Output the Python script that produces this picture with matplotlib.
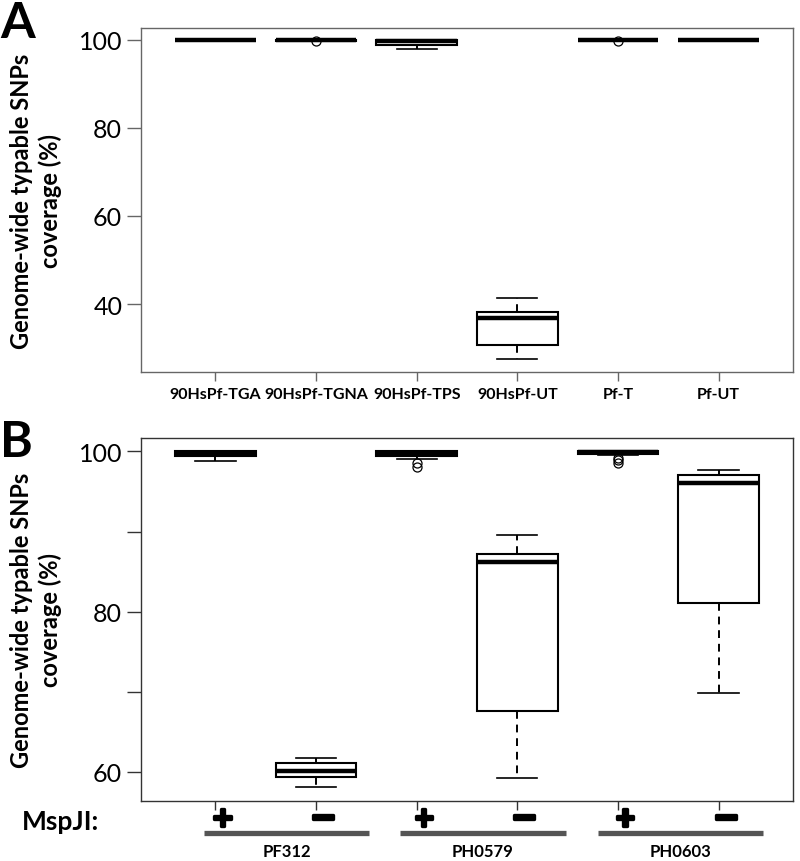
import matplotlib
matplotlib.use("Agg")
import matplotlib.pyplot as plt
import matplotlib.patheffects as pe

plt.rcParams['font.family'] = ['Lato', 'DejaVu Sans']

# panel A: coverage per sample group
a_labels = ['90HsPf-TGA', '90HsPf-TGNA', '90HsPf-TPS', '90HsPf-UT', 'Pf-T', 'Pf-UT']
a_whislo = [99.8, 99.75, 97.8, 27.5, 99.8, 99.8]
a_q1 = [99.85, 99.8, 98.9, 30.8, 99.85, 99.85]
a_med = [99.95, 99.9, 99.7, 36.8, 99.95, 99.95]
a_q3 = [100.0, 100.0, 100.0, 38.3, 100.0, 100.0]
a_whishi = [100.0, 100.0, 100.0, 41.5, 100.0, 100.0]
a_fliers = [[], [99.6], [], [], [99.6], []]

# panel B: with / without MspJI per strain
b_msp = ['+', '\u2212', '+', '\u2212', '+', '\u2212']
b_groups = ['PF312', 'PH0579', 'PH0603']
b_whislo = [98.8, 58.1, 99.0, 59.2, 99.6, 69.8]
b_q1 = [99.4, 59.4, 99.4, 67.6, 99.7, 81.1]
b_med = [99.8, 60.1, 99.8, 86.2, 99.9, 96.1]
b_q3 = [100.0, 61.1, 100.0, 87.2, 100.0, 97.1]
b_whishi = [100.0, 61.7, 100.0, 89.6, 100.0, 97.7]
b_fliers = [[], [], [98.6, 98.1], [], [99.2, 98.9, 98.6], []]


def make_stats(whislo, q1, med, q3, whishi, fliers):
    out = []
    for i in range(len(med)):
        out.append(dict(whislo=whislo[i], q1=q1[i], med=med[i], q3=q3[i],
                        whishi=whishi[i], fliers=fliers[i]))
    return out


box_style = dict(
    widths=0.8, patch_artist=True,
    boxprops=dict(facecolor='white', edgecolor='black', linewidth=1.5),
    medianprops=dict(color='black', linewidth=3.2, solid_capstyle='butt'),
    whiskerprops=dict(color='black', linewidth=1.4, linestyle=(0, (4, 3))),
    capprops=dict(color='black', linewidth=1.2),
    flierprops=dict(marker='o', markerfacecolor='none', markeredgecolor='black',
                    markersize=6.5, markeredgewidth=0.9),
)

fig = plt.figure(figsize=(8, 8.62), dpi=100)
ax1 = fig.add_axes([0.17625, 0.5673, 0.815, 0.3991])
ax2 = fig.add_axes([0.17625, 0.0700, 0.815, 0.4207])

pos = list(range(1, 7))
ax1.bxp(make_stats(a_whislo, a_q1, a_med, a_q3, a_whishi, a_fliers), positions=pos, **box_style)
ax2.bxp(make_stats(b_whislo, b_q1, b_med, b_q3, b_whishi, b_fliers), positions=pos, **box_style)

for ax, col in ((ax1, '#666666'), (ax2, '#333333')):
    ax.set_xlim(0.26, 6.74)
    for s in ax.spines.values():
        s.set_color(col)
        s.set_linewidth(1.0)
    ax.tick_params(axis='y', length=10, width=1, color=col, pad=3.5, labelsize=18)
    ax.tick_params(axis='x', length=6.5, width=1, color=col)

ax1.set_ylim(24.6, 102.66)
ax1.set_yticks([40, 60, 80, 100])
ax1.set_xticks(pos)
ax1.set_xticklabels(a_labels, fontsize=11.5, fontweight='bold')
ax1.tick_params(axis='x', pad=4)

ax2.set_ylim(56.41, 101.68)
ax2.set_yticks([60, 70, 80, 90, 100])
ax2.set_yticklabels(['60', '', '80', '', '100'])
ax2.set_xticks(pos)
ax2.set_xticklabels([''] * 6)

for i, lab in enumerate(b_msp):
    size = 19 if lab == '+' else 23
    ax2.text(pos[i] + 0.07, -0.05, lab, transform=ax2.get_xaxis_transform(),
             ha='center', va='center', fontsize=size, fontweight='bold',
             family='DejaVu Sans',
             path_effects=[pe.withStroke(linewidth=2.4, foreground='black')])

bar_spans = [(0.89, 2.53), (2.83, 4.48), (4.80, 6.44)]
for (x0, x1), g in zip(bar_spans, b_groups):
    ax2.plot([x0, x1], [-0.089, -0.089], color='#555555', linewidth=3.8,
             solid_capstyle='butt', transform=ax2.get_xaxis_transform(), clip_on=False)
    ax2.text((x0 + x1) / 2, -0.14, g, transform=ax2.get_xaxis_transform(),
             ha='center', va='center', fontsize=12, fontweight='bold')

fig.text(22 / 800, 1 - 822 / 862, 'MspJI:', ha='left', va='center',
         fontsize=19, fontweight='bold')

ylab = 'Genome-wide typable SNPs\ncoverage (%)'
fig.text(36 / 800, 1 - 201 / 862, ylab, rotation=90, ha='center', va='center',
         fontsize=17, fontweight='bold', multialignment='center', linespacing=1.25)
fig.text(36 / 800, 1 - 620 / 862, ylab, rotation=90, ha='center', va='center',
         fontsize=17, fontweight='bold', multialignment='center', linespacing=1.25)

fig.text(0.0, 1 - 23 / 862, 'A', fontsize=36, fontweight='bold', va='center', ha='left')
fig.text(0.0, 1 - 443 / 862, 'B', fontsize=36, fontweight='bold', va='center', ha='left')

fig.savefig('out.png', dpi=100)
